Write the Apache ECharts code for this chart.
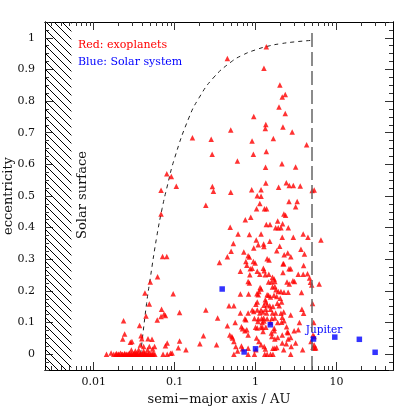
<!DOCTYPE html>
<html><head><meta charset="utf-8">
<script src="https://cdn.jsdelivr.net/npm/echarts@6/dist/echarts.min.js"></script>
<style>html,body{margin:0;padding:0;background:#fff}#c{width:415px;height:415px}</style>
</head><body><div id="c"></div>
<script>
// ---- Exoplanets (semi-major axis AU, eccentricity) ----
const exoA = [
0.080,0.091,0.068,0.105,0.068,0.071,0.080,0.0615,0.050,0.096,0.043,0.0487,0.069,0.115,0.074,0.077,0.068,0.0443,0.061,0.0234,
0.0369,0.0241,0.0228,0.0297,0.0384,0.0393,0.0469,0.0525,0.081,0.077,0.115,0.111,0.138,0.205,
0.0377,0.0414,0.0487,0.0565,0.0535,0.0292,0.0327,0.0359,0.0414,0.0463,0.0284,
0.166,0.243,0.243,0.227,0.33,
0.0144,0.0164,0.0177,0.0188,0.0192,0.0201,0.0205,0.0214,0.0222,0.0227,0.0238,0.0242,0.0252,0.0258,0.0267,0.0275,0.0281,0.0292,
0.0298,0.0309,0.0316,0.0328,0.0335,0.0347,0.0355,0.0369,0.0377,0.0392,0.0401,0.0418,0.0427,0.0444,0.0455,0.0471,0.0483,0.0502,
0.0514,0.0535,0.0548,0.0569,0.072,0.081,0.089,0.093,
1.36,0.449,1.27,2.00,2.33,2.14,1.95,2.33,0.95,1.34,1.32,2.18,2.84,0.494,0.283,0.906,1.66,4.28,0.291,0.94,
1.36,0.597,1.33,2.12,3.13,0.293,0.302,0.494,0.897,1.17,1.34,1.05,1.17,1.93,2.40,2.61,2.93,3.57,5.01,5.31,
2.59,3.27,3.13,1.13,1.03,1.29,1.37,2.24,2.35,0.748,0.873,1.88,1.36,1.51,2.16,1.77,1.91,2.06,2.54,0.486,
0.608,0.840,1.17,2.14,2.93,3.88,4.44,6.43,1.02,0.532,1.08,1.26,1.50,1.27,1.99,0.95,3.64,0.499,1.83,0.716,
2.50,0.81,0.84,0.449,2.26,4.02,2.73,1.39,1.47,0.358,0.76,0.78,0.94,0.99,2.19,2.23,2.59,2.72,3.93,0.86,
0.91,1.25,1.28,1.05,0.65,1.13,1.32,1.46,3.37,3.88,4.39,2.18,0.85,1.62,1.70,4.65,2.90,3.03,0.81,0.84,
1.45,1.57,1.73,2.45,2.61,4.77,4.94,6.12,1.73,1.79,1.62,1.14,1.17,1.10,1.91,2.06,2.25,2.53,3.70,0.65,
0.82,1.04,1.08,1.39,1.45,1.53,1.69,1.83,2.02,2.10,1.32,1.34,1.39,1.05,1.01,1.27,1.50,1.64,1.86,1.96,
0.47,0.54,3.74,1.05,1.17,1.34,1.53,0.91,0.95,0.81,0.65,1.13,1.24,1.37,1.62,1.77,2.06,2.23,2.72,3.93,
0.34,0.97,1.08,1.19,1.26,1.39,1.59,1.73,2.14,2.25,0.74,0.76,1.07,1.21,1.27,1.53,1.88,2.10,0.449,0.56,
3.49,5.23,1.00,1.05,1.17,1.22,1.34,0.67,0.69,0.74,0.78,1.70,1.24,1.57,1.70,2.42,2.53,3.00,3.37,0.48,
0.51,0.54,0.52,0.81,1.03,1.10,1.59,1.73,1.88,2.14,2.14,2.53,2.72,4.85,5.31,5.41,0.57,0.67,1.17,1.28,
1.64,1.73,1.83,2.40,2.76,3.82,0.54,0.60,0.81,0.81,0.97,1.30,1.39,1.53,1.64,2.72,1.01,2.23,0.69,1.32,
5.07,5.13,5.30,5.13,5.54,3.13,2.47
];
const exoE = [
0.570,0.562,0.518,0.531,0.443,0.309,0.309,0.245,0.228,0.191,0.193,0.159,0.142,0.132,0.127,0.122,0.119,0.121,0.108,0.106,
0.091,0.064,0.048,0.040,0.058,0.049,0.049,0.047,0.035,0.027,0.042,0.020,0.014,0.033,
0.029,0.024,0.024,0.024,0.016,0.013,0.010,0.014,0.010,0.014,0.038,
0.684,0.471,0.140,0.058,0.030,
0,0.004,0,0,0.002,0,0,0.003,0,0,0,0.002,0,0,0,0.003,0,0,
0,0,0.002,0,0,0,0.003,0,0,0,0,0.002,0,0,0,0,0.003,0,
0,0,0.002,0,0,0,0.003,0.004,
0.972,0.935,0.904,0.851,0.821,0.813,0.781,0.761,0.751,0.726,0.713,0.718,0.702,0.709,0.679,0.674,0.682,0.662,0.632,0.632,
0.641,0.611,0.591,0.602,0.592,0.530,0.515,0.512,0.520,0.520,0.541,0.501,0.499,0.528,0.542,0.533,0.533,0.532,0.517,0.519,
0.483,0.483,0.466,0.476,0.460,0.460,0.460,0.443,0.439,0.425,0.433,0.421,0.410,0.410,0.412,0.400,0.400,0.400,0.400,0.401,
0.380,0.378,0.380,0.370,0.370,0.380,0.370,0.361,0.361,0.350,0.346,0.348,0.357,0.340,0.341,0.336,0.332,0.325,0.327,0.323,
0.320,0.311,0.307,0.308,0.314,0.317,0.308,0.302,0.298,0.290,0.293,0.281,0.293,0.288,0.286,0.286,0.270,0.270,0.280,0.270,
0.272,0.272,0.264,0.262,0.262,0.253,0.251,0.253,0.253,0.253,0.254,0.258,0.251,0.243,0.238,0.241,0.232,0.230,0.230,0.225,
0.228,0.228,0.230,0.228,0.222,0.227,0.219,0.222,0.214,0.204,0.212,0.211,0.206,0.198,0.198,0.198,0.196,0.196,0.195,0.190,
0.190,0.191,0.188,0.188,0.186,0.181,0.186,0.182,0.177,0.165,0.172,0.165,0.156,0.165,0.158,0.155,0.153,0.151,0.161,0.153,
0.153,0.153,0.142,0.140,0.140,0.142,0.142,0.140,0.135,0.130,0.130,0.130,0.133,0.130,0.130,0.130,0.129,0.133,0.124,0.129,
0.114,0.113,0.112,0.113,0.114,0.112,0.113,0.114,0.117,0.106,0.112,0.109,0.103,0.100,0.105,0.100,0.100,0.101,0.090,0.100,
0.100,0.100,0.085,0.083,0.086,0.084,0.085,0.087,0.080,0.074,0.077,0.082,0.072,0.067,0.074,0.087,0.068,0.074,0.077,0.061,
0.056,0.040,0.051,0.061,0.051,0.040,0.056,0.048,0.053,0.061,0.035,0.048,0.053,0.040,0.029,0.019,0.024,0.026,0.030,0.024,
0.019,0.019,0.021,0.033,0.024,0.014,0,0.010,0.019,0,0,0,0,0,0,0,0.014,0.014,0.017,0.016,
0.160,0.061,0.056,0.022,0.020,0.035,0.070
];
// ---- Solar system planets ----
const solarNames = ['Mercury','Venus','Earth','Mars','Jupiter','Saturn','Uranus','Neptune'];
const solarA = [0.387,0.723,1.0,1.524,5.203,9.537,19.19,30.07];
const solarE = [0.206,0.007,0.017,0.093,0.048,0.054,0.047,0.006];
// ---- dashed periastron curve ----
const curveA = [0.038,0.045,0.05,0.06,0.07,0.08,0.1,0.15,0.2,0.3,0.5,0.7,1,1.5,2,3,5];
const curveE = [0,0.16,0.24,0.37,0.46,0.525,0.62,0.747,0.81,0.873,0.924,0.946,0.962,0.975,0.981,0.987,0.992];
// ---- reference lines / regions ----
const iceLineA = 5;
const iceLineTopE = 1.02;
const solarSurfaceA = 0.0053;
// ---- axes ----
const xMin = 0.0025, xMax = 50, yMin = -0.05, yMax = 1.05;
const xMajorTicks = [0.01,0.1,1,10];
const xMinorTicks = [0.003,0.004,0.005,0.006,0.007,0.008,0.009,0.02,0.03,0.04,0.05,0.06,0.07,0.08,0.09,
  0.2,0.3,0.4,0.5,0.6,0.7,0.8,0.9,2,3,4,5,6,7,8,9,20,30,40];
const yMajorTicks = [0,0.1,0.2,0.3,0.4,0.5,0.6,0.7,0.8,0.9,1];
const yMinorTicks = [];
for (let i = -2; i <= 42; i++) yMinorTicks.push(Math.round(i*25)/1000);

const FONT = 'DejaVu Serif';
const exoData = exoA.map((a,i)=>[a, exoE[i]]);
const solarData = solarA.map((a,i)=>[a, solarE[i]]);
const curveData = curveA.map((a,i)=>[a, curveE[i]]);

const pc = document.createElement('canvas'); pc.width = 8; pc.height = 8;
const g = pc.getContext('2d'); g.strokeStyle = '#000'; g.lineWidth = 1;
g.beginPath(); g.moveTo(-1,-1); g.lineTo(9,9); g.moveTo(7,-1); g.lineTo(9,1); g.moveTo(-1,7); g.lineTo(1,9); g.stroke();

const axisLineStyle = {color:'#000', width:1};
const tickStyle = {color:'#333', width:1};
function xAx(pos, ticks, len, labels, extra) {
  return Object.assign({
    type:'log', logBase:10, min:xMin, max:xMax, position:pos, gridIndex:0,
    axisLine:{show:true, onZero:false, lineStyle:axisLineStyle},
    axisTick:{show:true, inside:true, length:len, customValues:ticks, lineStyle:tickStyle},
    axisLabel: labels ? {show:true, customValues:xMajorTicks, margin:7, color:'#111',
       fontFamily:FONT, fontSize:11, formatter:v=>String(v)} : {show:false},
    splitLine:{show:false}, minorTick:{show:false}
  }, extra||{});
}
function yAx(pos, ticks, len, labels, extra) {
  return Object.assign({
    type:'value', min:yMin, max:yMax, position:pos, gridIndex:0,
    axisLine:{show:true, onZero:false, lineStyle:axisLineStyle},
    axisTick:{show:true, inside:true, length:len, customValues:ticks, lineStyle:tickStyle},
    axisLabel: labels ? {show:true, customValues:yMajorTicks, margin:10, color:'#111',
       fontFamily:FONT, fontSize:11, formatter:v=>String(+(+v).toFixed(2))} : {show:false},
    splitLine:{show:false}, minorTick:{show:false}
  }, extra||{});
}

const chart = echarts.init(document.getElementById('c'), null, {renderer:'canvas'});
chart.setOption({
  animation:false,
  backgroundColor:'#fff',
  grid:{left:45, right:22, top:22, bottom:45, containLabel:false, outerBoundsMode:'none'},
  xAxis:[
    xAx('bottom', xMajorTicks, 8, true, {name:'semi\u2212major axis / AU', nameLocation:'middle', nameGap:20,
       nameTextStyle:{fontFamily:FONT, fontSize:13, color:'#111', verticalAlign:'top'}}),
    xAx('bottom', xMinorTicks, 4, false),
    xAx('top', xMajorTicks, 8, false),
    xAx('top', xMinorTicks, 4, false)
  ],
  yAxis:[
    yAx('left', yMajorTicks, 8, true, {name:'eccentricity', nameLocation:'middle', nameGap:30, nameMoveOverlap:false,
       nameTextStyle:{fontFamily:FONT, fontSize:13, color:'#111'}}),
    yAx('left', yMinorTicks, 4, false),
    yAx('right', yMajorTicks, 8, false),
    yAx('right', yMinorTicks, 4, false)
  ],
  series:[
    {type:'line', xAxisIndex:0, yAxisIndex:0, data:[], silent:true,
     markArea:{silent:true, itemStyle:{color:{image:pc, repeat:'repeat'}, borderWidth:0},
       data:[[{coord:[xMin,yMin]},{coord:[solarSurfaceA,yMax]}]]}},
    {type:'line', xAxisIndex:0, yAxisIndex:0, data:curveData, smooth:true, showSymbol:false, symbol:'none',
     lineStyle:{color:'#222', width:1, type:[4,4]}, silent:true, z:3},
    {type:'line', xAxisIndex:0, yAxisIndex:0, data:[], silent:true,
     markLine:{silent:true, symbol:['none','none'], label:{show:false},
       lineStyle:{color:'#666', width:1.5, type:[14,5]},
       data:[[{coord:[iceLineA,yMin]},{coord:[iceLineA,iceLineTopE]}]]}},
    {type:'scatter', xAxisIndex:0, yAxisIndex:0, data:exoData, symbol:'triangle', symbolSize:5.5,
     itemStyle:{color:'#ff0000'}, z:4, silent:true},
    {type:'scatter', xAxisIndex:0, yAxisIndex:0, data:solarData, symbol:'rect', symbolSize:5.5,
     itemStyle:{color:'#0000ff'}, z:5, silent:true}
  ],
  graphic:[
    {type:'text', left:78, top:40, style:{text:'Red: exoplanets', fill:'#ff0000', font:'11px "DejaVu Serif"'}},
    {type:'text', left:78, top:56.5, style:{text:'Blue: Solar system', fill:'#0000ff', font:'11px "DejaVu Serif"'}},
    {type:'text', x:83, y:195, rotation:Math.PI/2,
     style:{text:'Solar surface', fill:'#111', font:'13px "DejaVu Serif"', align:'center', verticalAlign:'middle'}},
    {type:'text', x:324, y:330,
     style:{text:'Jupiter', fill:'#0000ff', font:'10.5px "DejaVu Serif"', align:'center', verticalAlign:'middle'}}
  ]
});
</script></body></html>
